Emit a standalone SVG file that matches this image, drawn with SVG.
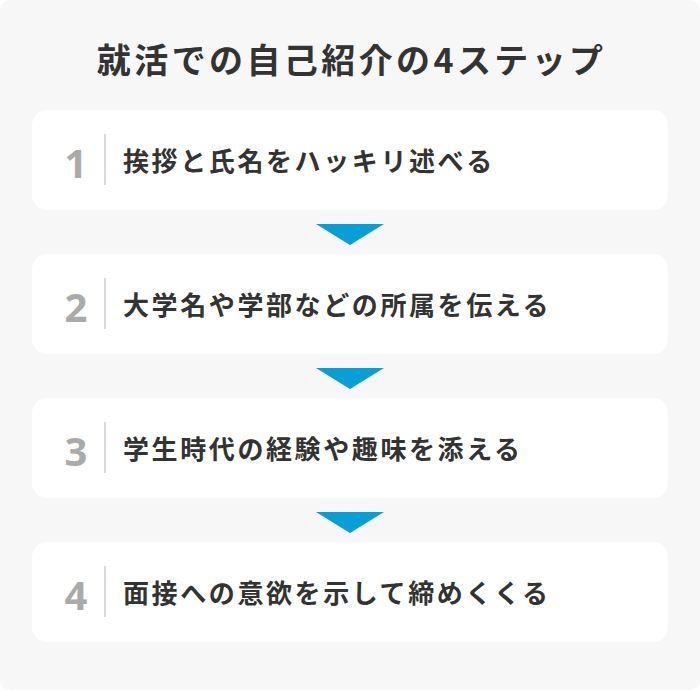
<svg xmlns="http://www.w3.org/2000/svg" width="700" height="690" viewBox="0 0 700 690">
<style>
.title{font-family:"Noto Sans CJK JP","Noto Sans",sans-serif;font-weight:700;font-size:34px;fill:#333;letter-spacing:3.4px}
.card{fill:#fff}
.num{font-family:"Noto Sans","Noto Sans CJK JP",sans-serif;font-weight:700;font-size:40px;fill:#aaa;text-anchor:middle}
.div{stroke:#ccc;stroke-width:1.5}
.lbl{font-family:"Noto Sans CJK JP","Noto Sans",sans-serif;font-weight:700;font-size:26px;fill:#333;letter-spacing:2.6px}
.arr{fill:#089fd6}
</style>
<rect x="0" y="0" width="700" height="690" rx="10" fill="#f7f7f7"/>
<text class="title" x="351.7" y="73" text-anchor="middle">就活での自己紹介の4ステップ</text>
<g id="step1">
<rect class="card" x="32" y="110" width="636" height="100" rx="15"/>
<text class="num" x="76" y="178">1</text>
<line class="div" x1="105" y1="134" x2="105" y2="185"/>
<text class="lbl" x="123" y="171">挨拶と氏名をハッキリ述べる</text>
</g>
<g id="step2">
<rect class="card" x="32" y="254" width="636" height="100" rx="15"/>
<text class="num" x="76" y="322">2</text>
<line class="div" x1="105" y1="278" x2="105" y2="329"/>
<text class="lbl" x="123" y="315">大学名や学部などの所属を伝える</text>
</g>
<g id="step3">
<rect class="card" x="32" y="398" width="636" height="100" rx="15"/>
<text class="num" x="76" y="466">3</text>
<line class="div" x1="105" y1="422" x2="105" y2="473"/>
<text class="lbl" x="123" y="459">学生時代の経験や趣味を添える</text>
</g>
<g id="step4">
<rect class="card" x="32" y="542" width="636" height="100" rx="15"/>
<text class="num" x="76" y="610">4</text>
<line class="div" x1="105" y1="566" x2="105" y2="617"/>
<text class="lbl" x="123" y="603">面接への意欲を示して締めくくる</text>
</g>
<g id="connectors">
<polygon class="arr" points="316,224 384,224 350,245"/>
<polygon class="arr" points="316,368 384,368 350,389"/>
<polygon class="arr" points="316,512 384,512 350,533"/>
</g>
</svg>
